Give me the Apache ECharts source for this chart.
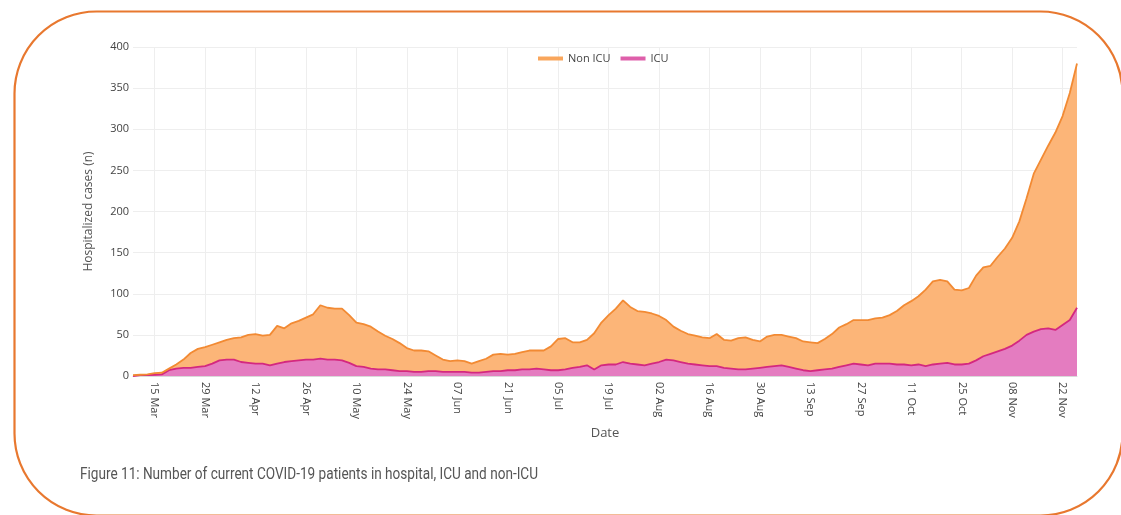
<!DOCTYPE html>
<html>
<head>
<meta charset="utf-8">
<script src="https://cdn.jsdelivr.net/npm/echarts@6/dist/echarts.min.js"></script>
<style>
html,body{margin:0;padding:0;background:#fff;}
#c{width:1121px;height:515px;}
</style>
</head>
<body>
<div id="c"></div>
<script>
// Dates every 2 days from 09 Mar to 26 Nov (2020)
var dates = [
"09 Mar","11 Mar","13 Mar","15 Mar","17 Mar","19 Mar","21 Mar","23 Mar","25 Mar","27 Mar",
"29 Mar","31 Mar","02 Apr","04 Apr","06 Apr","08 Apr","10 Apr","12 Apr","14 Apr","16 Apr",
"18 Apr","20 Apr","22 Apr","24 Apr","26 Apr","28 Apr","30 Apr","02 May","04 May","06 May",
"08 May","10 May","12 May","14 May","16 May","18 May","20 May","22 May","24 May","26 May",
"28 May","30 May","01 Jun","03 Jun","05 Jun","07 Jun","09 Jun","11 Jun","13 Jun","15 Jun",
"17 Jun","19 Jun","21 Jun","23 Jun","25 Jun","27 Jun","29 Jun","01 Jul","03 Jul","05 Jul",
"07 Jul","09 Jul","11 Jul","13 Jul","15 Jul","17 Jul","19 Jul","21 Jul","23 Jul","25 Jul",
"27 Jul","29 Jul","31 Jul","02 Aug","04 Aug","06 Aug","08 Aug","10 Aug","12 Aug","14 Aug",
"16 Aug","18 Aug","20 Aug","22 Aug","24 Aug","26 Aug","28 Aug","30 Aug","01 Sep","03 Sep",
"05 Sep","07 Sep","09 Sep","11 Sep","13 Sep","15 Sep","17 Sep","19 Sep","21 Sep","23 Sep",
"25 Sep","27 Sep","29 Sep","01 Oct","03 Oct","05 Oct","07 Oct","09 Oct","11 Oct","13 Oct",
"15 Oct","17 Oct","19 Oct","21 Oct","23 Oct","25 Oct","27 Oct","29 Oct","31 Oct","02 Nov",
"04 Nov","06 Nov","08 Nov","10 Nov","12 Nov","14 Nov","16 Nov","18 Nov","20 Nov","22 Nov",
"24 Nov","26 Nov"
];

// Tick labels shown on the x axis
var tickLabels = ["15 Mar","29 Mar","12 Apr","26 Apr","10 May","24 May","07 Jun","21 Jun","05 Jul","19 Jul",
"02 Aug","16 Aug","30 Aug","13 Sep","27 Sep","11 Oct","25 Oct","08 Nov","22 Nov"];

// ICU patients
var icu = [
0,1,1,1.5,2,7,9,10,10,11,
12,15,19,20,20,17,16,15,15,13,
15,17,18,19,20,20,21,20,20,19,
16,12,11,9,8,8,7,6,6,5,
5,6,6,5,5,5,5,4,4,5,
6,6,7,7,8,8,9,8,7,7,
8,10,11,13,8,13,14,14,17,15,
14,13,15,17,20,19,17,15,14,13,
12,12,10,9,8,8,9,10,11,12,
13,11,9,7,6,7,8,9,11,13,
15,14,13,15,15,15,14,14,13,14,
12,14,15,16,14,14,15,19,24,27,
30,33,37,43,50,54,57,58,56,62,
68,83
];

// Non-ICU patients (stacked on top of ICU)
var nonIcu = [
1,0.5,1,2,2,2,5,10,18,22,
23,23,22,24,26,30,34,36,34,37,
46,41,46,48,51,55,65,63,62,63,
58,53,52,51,46,41,38,34,28,26,
26,24,19,15,13,14,13,11,14,16,
20,21,19,20,21,23,22,23,29,38,
38,31,30,31,44,52,60,68,75,69,
65,65,61,56,48,41,38,36,35,34,
34,39,34,34,38,39,35,32,37,38,
37,37,37,35,35,33,37,42,48,50,
53,54,55,55,56,59,65,72,78,83,
93,101,102,99,91,90,92,103,108,107,
115,122,131,145,166,192,206,222,240,254,
276,297
];

var yTicks = [0,50,100,150,200,250,300,350,400];

var chart = echarts.init(document.getElementById('c'), null, {renderer:'canvas'});

function isTick(idx){ return tickLabels.indexOf(dates[idx]) >= 0; }

// caption width fitting
var capText = "Figure 11: Number of current COVID-19 patients in hospital, ICU and non-ICU";
var capFont = "16px Roboto";
var cv = document.createElement('canvas').getContext('2d');
cv.font = capFont;
var capW = cv.measureText(capText).width;
var capScale = 458 / capW;

var option = {
  backgroundColor: '#ffffff',
  animation: false,
  textStyle: {fontFamily: 'Open Sans'},
  grid: {left: 133, right: 44, top: 47, bottom: 139, containLabel: false},
  legend: {
    data: ['Non ICU','ICU'],
    left: 533, top: 48,
    icon: 'rect', itemWidth: 25, itemHeight: 4, itemGap: 10,
    textStyle: {fontFamily: 'Open Sans', fontSize: 11, color: '#444'}
  },
  xAxis: {
    type: 'category',
    data: dates,
    boundaryGap: false,
    name: 'Date', nameLocation: 'middle', nameGap: 49,
    nameTextStyle: {fontFamily: 'Open Sans', fontSize: 13, color: '#555'},
    axisLine: {show: true, lineStyle: {color: '#d9d9d9', width: 1}},
    axisTick: {show: false},
    axisLabel: {
      rotate: -90, fontSize: 11, color: '#444', margin: 6,
      interval: function(idx){ return isTick(idx); },
      formatter: function(v){ return tickLabels.indexOf(v) >= 0 ? v : ''; }
    },
    splitLine: {show: true, interval: function(idx){ return isTick(idx); }, lineStyle: {color: '#eeeeee', width: 1}}
  },
  yAxis: {
    type: 'value', min: 0, max: 400, interval: 50,
    name: 'Hospitalized cases (n)', nameLocation: 'middle', nameGap: 38,
    nameTextStyle: {fontFamily: 'Open Sans', fontSize: 12, color: '#555'},
    axisLine: {show: false},
    axisTick: {show: false},
    axisLabel: {fontSize: 11, color: '#444', margin: 4,
      formatter: function(v){ return yTicks.indexOf(v) >= 0 ? String(v) : ''; }},
    splitLine: {lineStyle: {color: '#eeeeee', width: 1}}
  },
  series: [
    {
      name: 'ICU', type: 'line', stack: 'total', data: icu,
      symbol: 'none', smooth: false,
      lineStyle: {color: '#D4287F', width: 1.8},
      itemStyle: {color: '#DE5FAA'},
      areaStyle: {color: '#E47CC0', opacity: 1}
    },
    {
      name: 'Non ICU', type: 'line', stack: 'total', data: nonIcu,
      symbol: 'none', smooth: false,
      lineStyle: {color: '#F28A33', width: 1.8},
      itemStyle: {color: '#F9A65C'},
      areaStyle: {color: '#FCB578', opacity: 1}
    }
  ],
  graphic: [
    {
      type: 'rect', left: 12, top: 9, silent: true,
      shape: {x: 0, y: 0, width: 1108, height: 504, r: 82},
      style: {fill: 'none', stroke: '#E8782F', lineWidth: 2.2},
      z: 100
    },
    {
      type: 'text', x: 80, y: 467, silent: true,
      scaleX: capScale, scaleY: 1,
      style: {text: capText, font: capFont, fill: '#555555'}
    }
  ]
};
chart.setOption(option);
</script>
</body>
</html>
